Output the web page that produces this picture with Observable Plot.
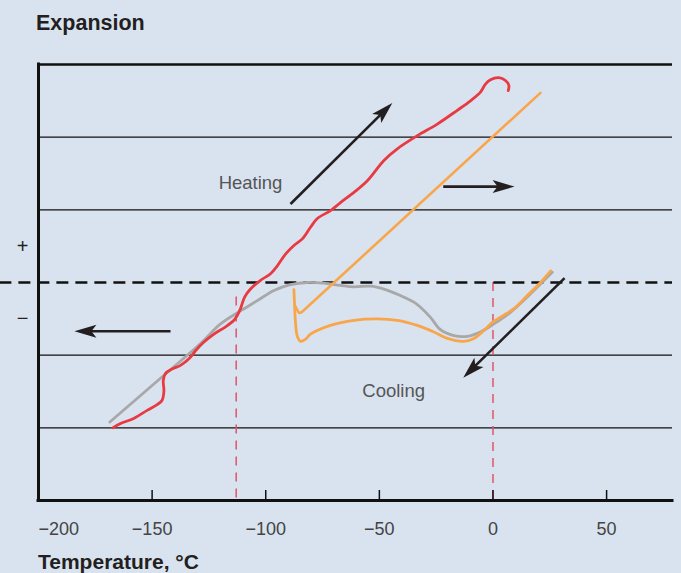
<!DOCTYPE html>
<html>
<head>
<meta charset="utf-8">
<script src="https://cdn.jsdelivr.net/npm/d3@7"></script>
<script src="https://cdn.jsdelivr.net/npm/@observablehq/plot@0.6"></script>
<style>
  html, body { margin: 0; padding: 0; background: #d9e3ef; }
  #fig { position: relative; width: 681px; height: 573px; background: #d9e3ef; font-family: "Liberation Sans", Arial, sans-serif; }
  #fig svg { position: absolute; left: 0; top: 0; }
  .ttl { position: absolute; left: 36px; font-weight: bold; color: #231f20; line-height: 22px; white-space: nowrap; }
</style>
</head>
<body>
<div id="fig">
  <div class="ttl" style="top:12px;font-size:21.5px">Expansion</div>
  <div class="ttl" style="top:551px;left:38px;font-size:21px">Temperature, °C</div>
</div>
<script>
// ---- data ----
const xTicks = [-150, -100, -50, 0, 50];
const gridLevels = [-2, -1, 1, 2];

// heating curve (red)
const heatT = [-167.3,-163.9,-158.1,-152.2,-147.8,-145.6,-144.8,-145.1,-144.1,-141.2,-137.5,-133.8,-130.9,-127.2,-122.8,-117.7,-114.0,-112.5,-111.1,-109.3,-106.7,-102.3,-97.9,-94.9,-91.3,-87.6,-83.9,-80.3,-77.3,-71.5,-67.1,-61.2,-55.3,-48.0,-42.1,-33.3,-24.5,-15.7,-9.9,-5.5,-3.3,-1.1,2.6,5.5,7.0,6.7];
const heatE = [-2.00,-1.94,-1.87,-1.76,-1.68,-1.62,-1.49,-1.35,-1.25,-1.19,-1.14,-1.05,-0.94,-0.82,-0.71,-0.61,-0.52,-0.45,-0.36,-0.20,-0.09,0.03,0.12,0.23,0.39,0.51,0.60,0.76,0.88,0.99,1.10,1.24,1.40,1.68,1.84,2.02,2.18,2.37,2.50,2.62,2.73,2.79,2.82,2.78,2.71,2.64];

// reference curve (grey)
const grayT = [-168.6,-148.6,-128.7,-119.9,-111.1,-103.7,-96.4,-89.1,-81.7,-74.4,-67.1,-61.2,-53.9,-48.0,-40.7,-34.8,-31.9,-27.5,-23.1,-17.2,-11.3,-5.5,0.4,7.7,15.1,20.9,26.1];
const grayE = [-1.92,-1.38,-0.84,-0.57,-0.39,-0.25,-0.11,-0.03,0.00,-0.01,-0.04,-0.06,-0.05,-0.09,-0.18,-0.27,-0.34,-0.48,-0.65,-0.73,-0.74,-0.68,-0.57,-0.41,-0.20,-0.02,0.14];

// cooling curves (orange)
const coolLowT = [-87.6,-87.3,-86.9,-86.1,-84.7,-82.5,-80.3,-71.5,-61.2,-50.9,-42.1,-33.3,-26.0,-20.1,-12.8,-8.4,-4.0,-0.3,4.8,9.2,15.1,20.9,25.4];
const coolLowE = [-0.10,-0.32,-0.55,-0.74,-0.81,-0.78,-0.71,-0.59,-0.52,-0.50,-0.52,-0.59,-0.68,-0.77,-0.81,-0.77,-0.66,-0.55,-0.45,-0.36,-0.18,0.00,0.16];
const coolUpT = [-86.9,-85.4,-84.2,20.9];
const coolUpE = [-0.33,-0.42,-0.41,2.61];

// arrows
const arrowX1 = [-89.1, -21.9, -141.9, 31.5];
const arrowY1 = [1.08, 1.32, -0.67, 0.06];
const arrowX2 = [-44.3, 9.5, -184.2, -13.1];
const arrowY2 = [2.47, 1.32, -0.67, -1.31];

// vertical dashed markers
const markT = [-113, 0];
const markTop = [-0.2, 0];

// labels
const labelText = ["Heating", "Cooling"];
const labelT = [-106.7, -43.7];
const labelE = [1.375, -1.49];

// ---- build ----
const W = 681, H = 573;
const mL = 38, mR = 9, mT = 64, mB = 73;
const xDom = [-200, 79], yDom = [-3, 3];
const kx = (W - mL - mR) / (xDom[1] - xDom[0]);
const ky = (H - mT - mB) / (yDom[1] - yDom[0]);

const zip = (a, b) => a.map((v, i) => ({x: v, y: b[i]}));
const heat = zip(heatT, heatE);
const gray = zip(grayT, grayE);
const coolLow = zip(coolLowT, coolLowE);
const coolUp = zip(coolUpT, coolUpE);
const arrows = arrowX1.map((x1, i) => {
  const dxp = (arrowX2[i] - x1) * kx;
  const dyp = -(arrowY2[i] - arrowY1[i]) * ky;
  const len = Math.hypot(dxp, dyp);
  const back = 14;
  return {
    x1, y1: arrowY1[i], x2: arrowX2[i], y2: arrowY2[i],
    sx2: arrowX2[i] - (dxp / len) * back / kx,
    sy2: arrowY2[i] + (dyp / len) * back / ky,
    angle: Math.atan2(dxp, -dyp) * 180 / Math.PI
  };
});
const marks = markT.map((t, i) => ({x: t, top: markTop[i]}));
const labels = labelText.map((s, i) => ({s, x: labelT[i], y: labelE[i]}));

const arrowHead = {
  draw(ctx) {
    ctx.moveTo(0, 0);
    ctx.lineTo(6.5, 22);
    ctx.lineTo(0, 17);
    ctx.lineTo(-6.5, 22);
    ctx.closePath();
  }
};

const fmt = d => d < 0 ? "\u2212" + Math.abs(d) : String(d);
const ink = "#231f20";

const chart = Plot.plot({
  width: W, height: H,
  marginLeft: mL, marginRight: mR, marginTop: mT, marginBottom: mB,
  x: {domain: xDom},
  y: {domain: yDom},
  style: {background: "transparent", overflow: "visible", fontFamily: "'Liberation Sans', Arial, sans-serif"},
  marks: [
    Plot.ruleY(gridLevels, {stroke: "#111", strokeWidth: 1.4}),
    Plot.ruleY([3], {stroke: "#111", strokeWidth: 2.6}),
    Plot.ruleX(marks, {x: "x", y1: "top", y2: yDom[0], stroke: "#e05468", strokeWidth: 1.5, strokeDasharray: "9,7"}),
    Plot.ruleY([0], {x1: -217, x2: xDom[1], stroke: "#111", strokeWidth: 2.6, strokeDasharray: "12,7"}),
    Plot.ruleX(xTicks, {y1: yDom[0], y2: yDom[0] + 10 / ky, stroke: "#111", strokeWidth: 1.5}),
    Plot.line(gray, {x: "x", y: "y", stroke: "#a8a8a8", strokeWidth: 2.8, curve: "catmull-rom"}),
    Plot.line(coolLow, {x: "x", y: "y", stroke: "#f9a64a", strokeWidth: 2.8, curve: "catmull-rom"}),
    Plot.line(coolUp, {x: "x", y: "y", stroke: "#f9a64a", strokeWidth: 2.6, curve: "linear"}),
    Plot.line(heat, {x: "x", y: "y", stroke: "#e83a42", strokeWidth: 2.8, curve: "catmull-rom"}),
    Plot.link(arrows, {x1: "x1", y1: "y1", x2: "sx2", y2: "sy2", stroke: ink, strokeWidth: 2.6}),
    Plot.dot(arrows, {x: "x2", y: "y2", symbol: arrowHead, rotate: "angle", fill: ink, stroke: null, r: 5}),
    Plot.text(labels, {x: "x", y: "y", text: "s", fontSize: 18.5, fill: "#555"}),
    Plot.ruleY([yDom[0]], {stroke: "#111", strokeWidth: 3, strokeLinecap: "square"}),
    Plot.ruleX([xDom[0]], {stroke: "#111", strokeWidth: 3, strokeLinecap: "square"}),
    Plot.axisX(xTicks, {tickSize: 0, tickPadding: 22, tickFormat: fmt, fontSize: 18, color: "#444"}),
    Plot.axisX([xDom[0]], {tickSize: 0, tickPadding: 22, tickFormat: fmt, textAnchor: "start", fontSize: 18, color: "#444"}),
    Plot.axisY([0.5, -0.5], {tickSize: 0, tickPadding: 16, textAnchor: "middle", tickFormat: d => d > 0 ? "+" : "\u2212", fontSize: 20, color: "#222"})
  ]
});
document.getElementById("fig").appendChild(chart);
</script>
</body>
</html>
